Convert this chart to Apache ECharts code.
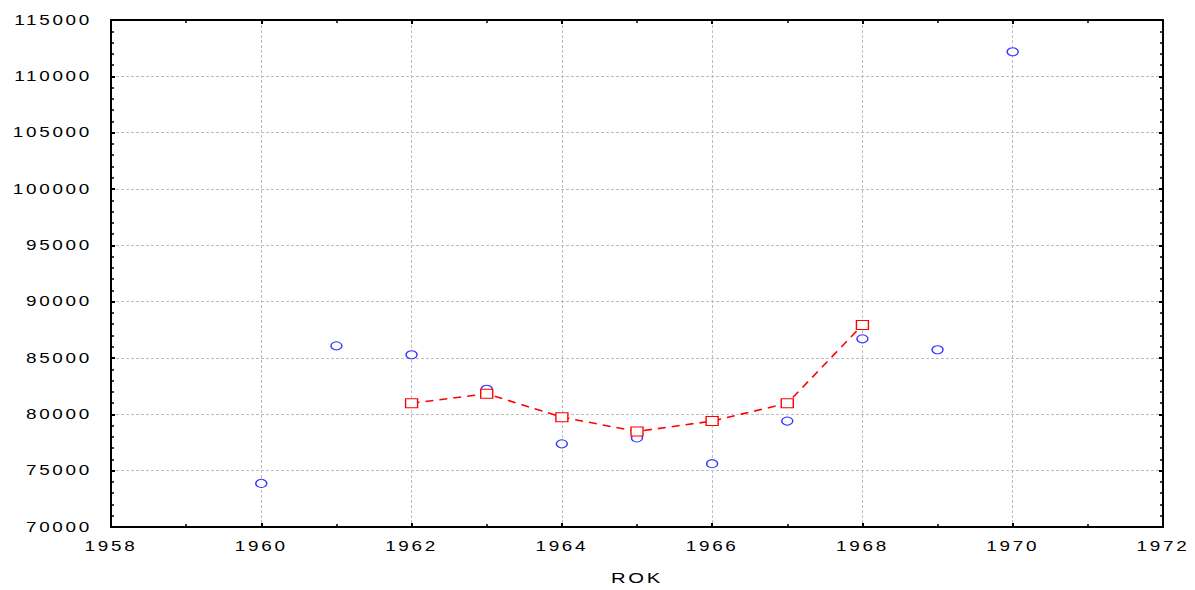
<!DOCTYPE html>
<html>
<head>
<meta charset="utf-8">
<script src="https://cdn.jsdelivr.net/npm/echarts@6/dist/echarts.min.js"></script>
<style>
html,body{margin:0;padding:0;background:#fff;overflow:hidden;}
#chart{width:1195px;height:590px;}
#chart text{letter-spacing:2px;}
</style>
</head>
<body>
<div id="chart"></div>
<script>
const years = [1960, 1961, 1962, 1963, 1964, 1965, 1966, 1967, 1968, 1969, 1970];
const observed = [73870, 86080, 85290, 82230, 77380, 77910, 75620, 79400, 86700, 85730, 112180];
const trendYears = [1962, 1963, 1964, 1965, 1966, 1967, 1968];
const trend = [80980, 81830, 79750, 78480, 79400, 80980, 87930];
const xTicks = [1958, 1960, 1962, 1964, 1966, 1968, 1970, 1972];
const yTicks = [70000, 75000, 80000, 85000, 90000, 95000, 100000, 105000, 110000, 115000];
const xAxisName = 'ROK';

const chart = echarts.init(document.getElementById('chart'), null, {renderer: 'svg', width: 1195, height: 590});
const font = {fontFamily: 'Liberation Sans', fontSize: 14, color: '#000'};
const gridLine = {show: true, lineStyle: {color: '#bdbdbd', type: [3, 2], width: 1}};
const frameLine = {show: true, lineStyle: {color: '#000', width: 2}};

chart.setOption({
  animation: false,
  backgroundColor: '#fff',
  grid: {left: 111, width: 1052, top: 20, height: 512, containLabel: false},
  xAxis: [{
    type: 'value', min: xTicks[0], max: xTicks[xTicks.length - 1], interval: 2,
    name: xAxisName, nameLocation: 'middle', nameGap: 43,
    nameTextStyle: Object.assign({}, font, {fontSize: 15}),
    axisLine: frameLine,
    axisTick: {show: true, inside: true, length: 4, lineStyle: {color: '#000', width: 2}},
    minorTick: {show: true, splitNumber: 2, length: 3, lineStyle: {color: '#000', width: 1.5}},
    axisLabel: Object.assign({}, font, {margin: 12, formatter: v => String(v)}),
    splitLine: gridLine
  }, {
    type: 'value', position: 'top', min: xTicks[0], max: xTicks[xTicks.length - 1], interval: 2,
    axisLine: frameLine,
    axisTick: {show: true, inside: true, length: 4, lineStyle: {color: '#000', width: 2}},
    minorTick: {show: true, splitNumber: 2, length: 3, lineStyle: {color: '#000', width: 1.5}},
    axisLabel: {show: false}, splitLine: {show: false}
  }],
  yAxis: [{
    type: 'value', min: yTicks[0], max: yTicks[yTicks.length - 1], interval: 5000,
    axisLine: frameLine,
    axisTick: {show: true, inside: true, length: 4, lineStyle: {color: '#000', width: 2}},
    minorTick: {show: true, splitNumber: 5, length: 3, lineStyle: {color: '#000', width: 1.5}},
    axisLabel: Object.assign({}, font, {margin: 19, formatter: v => String(v)}),
    splitLine: gridLine
  }, {
    type: 'value', position: 'right', min: yTicks[0], max: yTicks[yTicks.length - 1], interval: 5000,
    axisLine: frameLine,
    axisTick: {show: true, inside: true, length: 4, lineStyle: {color: '#000', width: 2}},
    minorTick: {show: true, splitNumber: 5, length: 3, lineStyle: {color: '#000', width: 1.5}},
    axisLabel: {show: false}, splitLine: {show: false}
  }],
  series: [{
    type: 'scatter',
    data: years.map((y, i) => [y, observed[i]]),
    symbol: 'circle', symbolSize: [11, 8],
    itemStyle: {color: '#fff', borderColor: '#0000ff', borderWidth: 1.2},
    z: 2
  }, {
    type: 'line',
    data: trendYears.map((y, i) => [y, trend[i]]),
    symbol: 'rect', symbolSize: [12, 9], showSymbol: true,
    lineStyle: {color: '#ff0000', width: 1.6, type: [8, 6]},
    itemStyle: {color: '#fff', borderColor: '#ff0000', borderWidth: 1.2},
    z: 3
  }]
});

// Widen the glyphs horizontally (the reference uses a stretched sans face).
document.querySelectorAll('#chart text').forEach(function (t) {
  const tr = t.getAttribute('transform') || '';
  t.setAttribute('transform', (tr + ' scale(1.35,1)').trim());
});
</script>
</body>
</html>
